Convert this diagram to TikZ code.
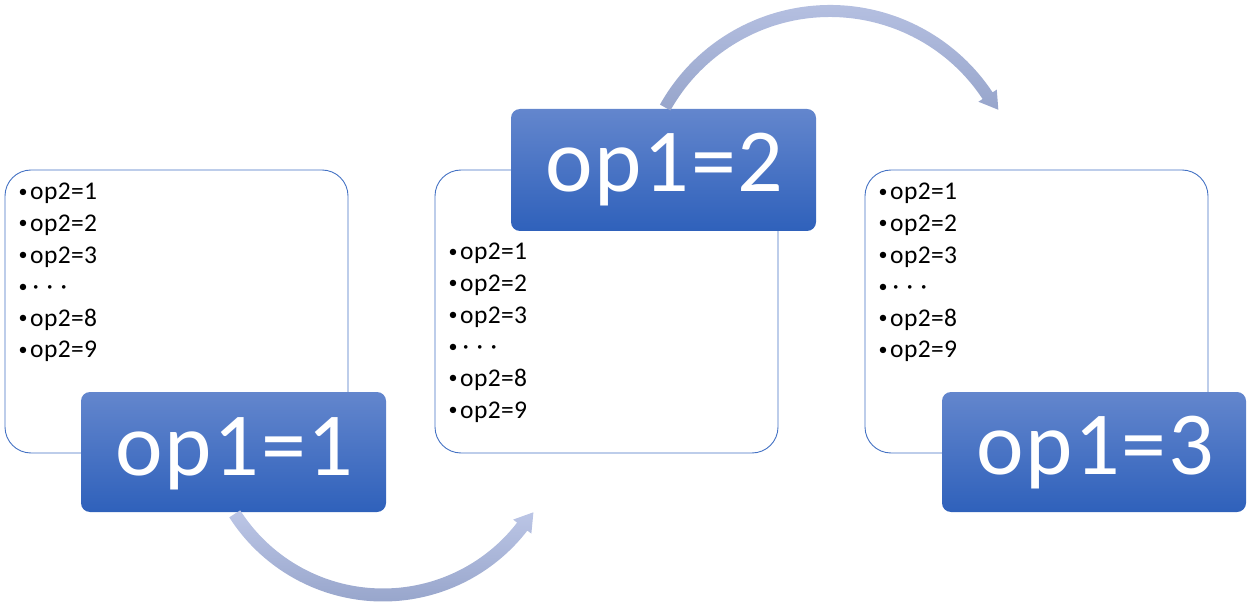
\documentclass[tikz,border=0pt]{standalone}
\usepackage{fontspec}
\setmainfont{Carlito}
\newfontfamily\labfont[LetterSpace=2]{Carlito}
\newfontfamily\itemfont[LetterSpace=1.5]{Carlito}
\usetikzlibrary{calc}
\definecolor{boxline}{HTML}{4472C4}
\definecolor{labtop}{HTML}{6386CD}
\definecolor{labbot}{HTML}{2F61BB}
\definecolor{arrlight}{HTML}{BCC6E6}
\definecolor{arrdark}{HTML}{97A5CB}
\tikzset{
  listbox/.style={draw=boxline, line width=0.9pt, rounded corners=26pt, fill=white},
  labelbox/.style={rounded corners=9pt, top color=labtop, bottom color=labbot, draw=none},
  labeltext/.style={text=white, anchor=base, inner sep=0pt, font=\labfont\fontsize{90pt}{100pt}\selectfont},
  itemtext/.style={anchor=base west, inner sep=0pt, font=\itemfont\fontsize{25.5pt}{30pt}\selectfont},
  bendarrow/.style={top color=arrlight, bottom color=arrdark, draw=none}
}
\newcommand{\smallbullet}{\makebox[11.5pt][l]{\raisebox{2.6pt}{\fontsize{18pt}{18pt}\selectfont•}}}
\def\dotsword{DOTS}
\newcommand{\itemlist}[3]{% name, x bullet, y first baseline
  \foreach \t [count=\i] in {op2=1,op2=2,op2=3,DOTS,op2=8,op2=9}{
    \pgfmathsetmacro{\yy}{#3-31.6*(\i-1)}
    \ifx\t\dotsword
      \node[itemtext] (#1-\i) at (#2,\yy) {\smallbullet\hspace{2.5pt}·\hspace{7.5pt}·\hspace{7.5pt}·};
    \else
      \node[itemtext] (#1-\i) at (#2,\yy) {\smallbullet\t};
    \fi
  }
}
\begin{document}
\begin{tikzpicture}[x=1pt,y=1pt]
\useasboundingbox (0,0) rectangle (1250,-609);

% list boxes
\draw[listbox] (5,-170) rectangle (348,-453);
\node[inner sep=0] (boxA) at (176.5,-311.5) {};
\draw[listbox] (435,-170) rectangle (778,-453);
\node[inner sep=0] (boxB) at (606.5,-311.5) {};
\draw[listbox] (865,-170) rectangle (1208,-453);
\node[inner sep=0] (boxC) at (1036.5,-311.5) {};

% item lists
\itemlist{la}{18.5}{-200}
\itemlist{lb}{448.5}{-260}
\itemlist{lc}{878.5}{-200}

% blue labels
\shade[labelbox] (81,-392) rectangle (386,-512);
\node[labeltext] (lab1) at (234.5,-475) {op1=1};
\shade[labelbox] (511,-109) rectangle (816,-231);
\node[labeltext] (lab2) at (664.5,-192) {op1=2};
\shade[labelbox] (942,-392) rectangle (1246,-512);
\node[labeltext] (lab3) at (1095,-474) {op1=3};

% curved arrows
\coordinate (c1) at (383,-419);
\shade[bendarrow]
  ($(c1)+(212.6:182.5)$) arc[start angle=212.6, end angle=322.3, radius=182.5]
  -- ($(c1)+(322.3:187.5)$) -- ($(c1)+(328.2:177)$) -- ($(c1)+(322.3:164.5)$)
  -- ($(c1)+(322.3:169.5)$) arc[start angle=322.3, end angle=212.6, radius=169.5]
  -- cycle;

\coordinate (c2) at (830,-200);
\shade[bendarrow]
  ($(c2)+(150.7:195)$) arc[start angle=150.7, end angle=33.5, radius=195]
  -- ($(c2)+(33.5:200)$) -- ($(c2)+(28.2:191)$) -- ($(c2)+(33.5:178)$)
  -- ($(c2)+(33.5:183)$) arc[start angle=33.5, end angle=150.7, radius=183]
  -- cycle;
\end{tikzpicture}
\end{document}
